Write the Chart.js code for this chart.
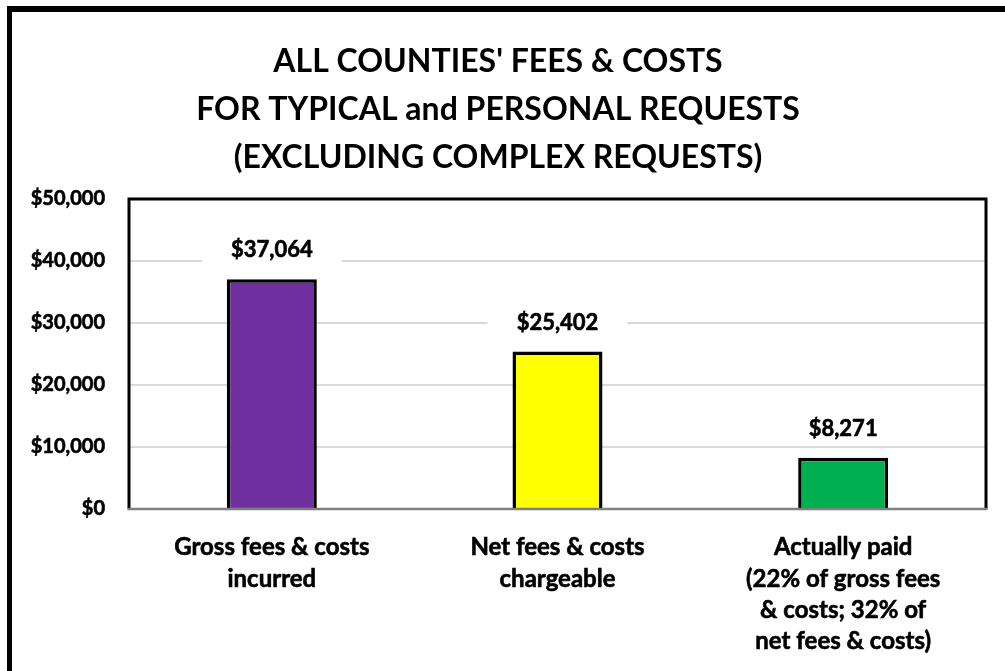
<!DOCTYPE html>
<html><head><meta charset="utf-8">
<script src="https://cdn.jsdelivr.net/npm/chart.js@4.4.1/dist/chart.umd.min.js"></script>
<style>
html,body{margin:0;padding:0;background:#fff;overflow:hidden;width:1005px;height:671px;}
#frame{position:absolute;left:7px;top:6px;width:1100px;height:800px;border-left:5px solid #000;border-top:6px solid #000;box-sizing:border-box;}
#c{position:absolute;left:0;top:0;}
</style></head><body>
<div id="frame"></div>
<canvas id="c" width="1005" height="671"></canvas>
<script>
const titleLines = ["ALL COUNTIES' FEES & COSTS", "FOR TYPICAL and PERSONAL REQUESTS", "(EXCLUDING COMPLEX REQUESTS)"];
const categories = [
  ["Gross fees & costs", "incurred"],
  ["Net fees & costs", "chargeable"],
  ["Actually paid", "(22% of gross fees", "& costs; 32% of", "net fees & costs)"]
];
const values = [37064, 25402, 8271];
const barColors = ["#7030A0", "#FFFF00", "#00B050"];
const yMin = 0, yMax = 50000, yStep = 10000;

const FONT = "Lato";
const W = "bold";
const money = v => "$" + Number(v).toLocaleString("en-US");

const labelPlugin = {
  id: "valueLabels",
  afterDatasetsDraw(chart) {
    const ctx = chart.ctx;
    const meta = chart.getDatasetMeta(0);
    ctx.save();
    ctx.font = W + " 22px " + FONT;
    ctx.textAlign = "center";
    ctx.textBaseline = "middle";
    ctx.lineWidth = 0.6;
    ctx.strokeStyle = "#000";
    meta.data.forEach((bar, i) => {
      const x = bar.x, y = bar.y - 29;
      ctx.fillStyle = "#fff";
      ctx.fillRect(x - 70, y - 14, 140, 28);
      ctx.fillStyle = "#000";
      ctx.fillText(money(values[i]), x, y);
      ctx.strokeText(money(values[i]), x, y);
    });
    ctx.restore();
  },
  afterDraw(chart) {
    const {ctx, chartArea: a} = chart;
    ctx.save();
    ctx.strokeStyle = "#000";
    ctx.lineWidth = 3;
    ctx.beginPath();
    ctx.moveTo(a.left, a.bottom);
    ctx.lineTo(a.left, a.top);
    ctx.lineTo(a.right, a.top);
    ctx.lineTo(a.right, a.bottom);
    ctx.stroke();
    ctx.strokeStyle = "#7f7f7f";
    ctx.lineWidth = 2.5;
    ctx.beginPath();
    ctx.moveTo(a.left - 1.5, a.bottom);
    ctx.lineTo(a.right + 1.5, a.bottom);
    ctx.stroke();
    ctx.restore();
  }
};

new Chart(document.getElementById("c"), {
  type: "bar",
  data: {
    labels: categories,
    datasets: [{
      data: values,
      backgroundColor: barColors,
      borderColor: "#000",
      borderWidth: 3.5,
      borderSkipped: "bottom",
      barPercentage: 0.63,
      categoryPercentage: 0.5
    }]
  },
  options: {
    responsive: false,
    animation: false,
    layout: { padding: { left: 10, right: 19, top: 0, bottom: 0 } },
    plugins: {
      legend: { display: false },
      tooltip: { enabled: false },
      title: {
        display: true,
        text: titleLines,
        color: "#000",
        font: { family: FONT, size: 32, weight: W, lineHeight: 1.5 },
        padding: { top: 38, bottom: 17 }
      }
    },
    scales: {
      x: {
        grid: { display: false },
        border: { display: false },
        ticks: {
          color: "#000",
          textStrokeColor: "#000",
          textStrokeWidth: 0.6,
          font: { family: FONT, size: 24, weight: W, lineHeight: 1.3 },
          padding: 15,
          maxRotation: 0,
          autoSkip: false
        },
        afterFit(s) { s.height = 162; }
      },
      y: {
        min: yMin, max: yMax,
        grid: { color: "#d9d9d9", lineWidth: 2, drawTicks: false },
        border: { display: false },
        ticks: {
          stepSize: yStep,
          color: "#000",
          textStrokeColor: "#000",
          textStrokeWidth: 0.6,
          padding: 24,
          font: { family: FONT, size: 20, weight: W },
          callback: v => money(v)
        },
        afterFit(s) { s.width = 119; }
      }
    }
  },
  plugins: [labelPlugin]
});
</script>
</body></html>
